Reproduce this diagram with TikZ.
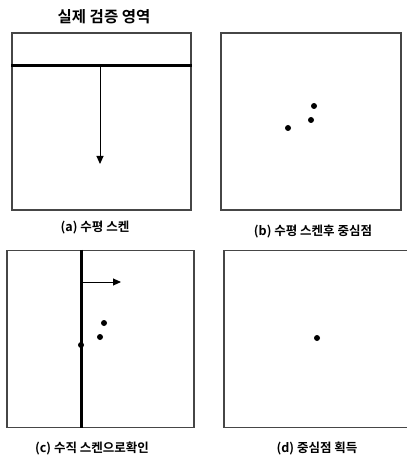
\documentclass[tikz,border=0pt]{standalone}
\usepackage{fontspec}
\usepackage{tikz}
\usetikzlibrary{arrows.meta, positioning, calc}
\newfontfamily\krfont{Noto Sans CJK KR}[BoldFont={Noto Sans CJK KR Bold}]
\definecolor{panelgray}{RGB}{70, 70, 70}

\begin{document}
\begin{tikzpicture}[x=1pt, y=-1pt,
    panel/.style={draw=panelgray, line width=1.2pt, minimum height=177pt},
    caption/.style={font=\krfont\bfseries\fontsize{12.5}{14}\selectfont, inner sep=0pt},
    scanline/.style={line width=3pt},
    scanarrow/.style={line width=1pt, -{Triangle[length=8pt, width=7pt]}},
    spot/.style={circle, fill=black, inner sep=0pt, minimum size=6pt}]
    \useasboundingbox (0,0) rectangle (406,462);
    % title
    \node[font=\krfont\bfseries\fontsize{15.5}{18}\selectfont, inner sep=0pt] (title) at (104,17) {실제 검증 영역};
    % panels
    \node[panel, minimum width=179pt] (pa) at (101.5,121.5) {};
    \node[panel, minimum width=180pt] (pb) at (311,121.5) {};
    \node[panel, minimum width=187pt] (pc) at (100.5,339) {};
    \node[panel, minimum width=186pt] (pd) at (317,339) {};
    % (a) horizontal scan
    \coordinate (sa) at (100,66);
    \coordinate (ea) at (100,164);
    \draw[scanline] (pa.west |- sa) -- (pa.east |- sa);
    \draw[scanarrow] (sa) -- (ea);
    % (b) centre points
    \node[spot] (b1) at (314,106) {};
    \node[spot] (b2) at (311,120) {};
    \node[spot] (b3) at (288,128) {};
    % (c) vertical scan
    \coordinate (sc) at (81,282);
    \coordinate (ec) at (121,282);
    \draw[scanline] (sc |- pc.north) -- (sc |- pc.south);
    \draw[scanarrow] (sc) -- (ec);
    \node[spot] (c1) at (104,323) {};
    \node[spot] (c2) at (100,337) {};
    \node[spot] (c3) at (81,345) {};
    % (d) centre point
    \node[spot] (d1) at (317,338) {};
    % captions
    \node[caption] (ca) at (95,228) {(a) 수평 스켄};
    \node[caption] (cb) at (313,232) {(b) 수평 스켄후 중심점};
    \node[caption] (cc) at (92,448) {(c) 수직 스켄으로확인};
    \node[caption] (cd) at (317,448) {(d) 중심점 획득};
\end{tikzpicture}
\end{document}
